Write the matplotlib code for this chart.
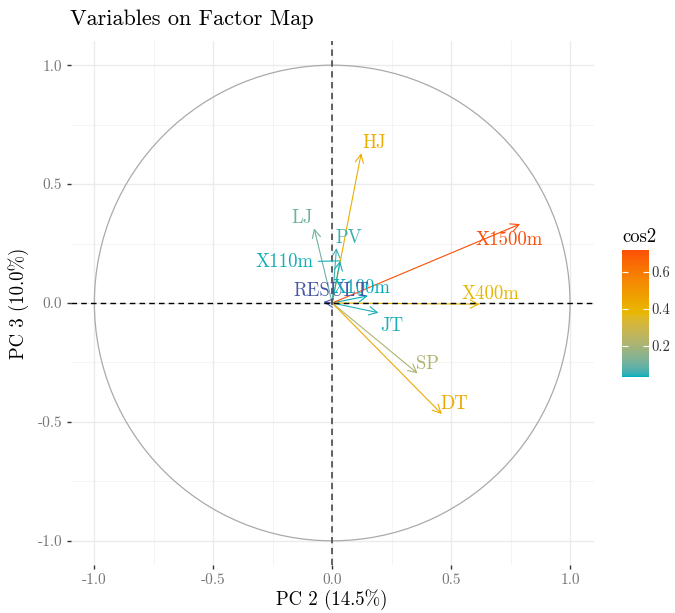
import numpy as np
import matplotlib
matplotlib.use("Agg")
import matplotlib.pyplot as plt
from matplotlib.colors import ListedColormap, Normalize, to_rgb
from matplotlib.cm import ScalarMappable
from matplotlib.patches import Circle

plt.rcParams['font.family'] = ['cmr10', 'DejaVu Serif']
plt.rcParams['axes.unicode_minus'] = False
plt.rcParams['mathtext.fontset'] = 'cm'
plt.rcParams['axes.formatter.use_mathtext'] = True

# ---- data ----
variables = ["X100m", "LJ", "SP", "HJ", "X400m", "X110m", "DT", "PV", "JT", "X1500m"]
pc2 = [0.150, -0.076, 0.359, 0.122, 0.620, 0.033, 0.461, 0.018, 0.195, 0.790]
pc3 = [0.030, 0.314, -0.296, 0.630, -0.005, 0.177, -0.467, 0.231, -0.041, 0.332]
cos2 = [0.032, 0.104, 0.217, 0.412, 0.385, 0.035, 0.430, 0.054, 0.040, 0.717]

sup_name = "RESULT"
sup_pc2 = -0.037
sup_pc3 = 0.004

tick_values = [-1.0, -0.5, 0.0, 0.5, 1.0]
tick_labels = ["-1.0", "-0.5", "0.0", "0.5", "1.0"]
minor_values = [-0.75, -0.25, 0.25, 0.75]
cbar_ticks = [0.2, 0.4, 0.6]
cbar_labels = ["0.2", "0.4", "0.6"]
gradient_colors = ["#00AFBB", "#E7B800", "#FC4E07"]

title = "Variables on Factor Map"
xlabel = "PC 2 (14.5%)"
ylabel = "PC 3 (10.0%)"

# ---- layout (label offsets in pixels: right, up) ----
label_offsets = {
    "X100m": (-6, 8), "LJ": (-12, 10), "SP": (10, 9), "HJ": (13, 10),
    "X400m": (11, 10), "X110m": (-55, -1), "DT": (12, 10), "PV": (12, 10),
    "JT": (13, -13), "X1500m": (-11, -16),
}
sup_offset = (8, 11)
PX = 0.72  # points per pixel at dpi 100


# ---- Lab-space gradient (like ggplot2's colour ramp) ----
def srgb_to_lab(rgb):
    rgb = np.asarray(rgb, float)
    lin = np.where(rgb <= 0.04045, rgb / 12.92, ((rgb + 0.055) / 1.055) ** 2.4)
    M = np.array([[0.4124564, 0.3575761, 0.1804375],
                  [0.2126729, 0.7151522, 0.0721750],
                  [0.0193339, 0.1191920, 0.9503041]])
    xyz = M @ lin
    wp = np.array([0.95047, 1.0, 1.08883])
    t = xyz / wp
    f = np.where(t > (6 / 29) ** 3, np.cbrt(t), t / (3 * (6 / 29) ** 2) + 4 / 29)
    return np.array([116 * f[1] - 16, 500 * (f[0] - f[1]), 200 * (f[1] - f[2])])


def lab_to_srgb(lab):
    L, a, b = lab
    fy = (L + 16) / 116
    fx = fy + a / 500
    fz = fy - b / 200
    f = np.array([fx, fy, fz])
    d = 6 / 29
    t = np.where(f > d, f ** 3, 3 * d ** 2 * (f - 4 / 29))
    xyz = t * np.array([0.95047, 1.0, 1.08883])
    Minv = np.array([[3.2404542, -1.5371385, -0.4985314],
                     [-0.9692660, 1.8760108, 0.0415560],
                     [0.0556434, -0.2040259, 1.0572252]])
    lin = np.clip(Minv @ xyz, 0, 1)
    rgb = np.where(lin <= 0.0031308, 12.92 * lin, 1.055 * lin ** (1 / 2.4) - 0.055)
    return np.clip(rgb, 0, 1)


labs = [srgb_to_lab(to_rgb(c)) for c in gradient_colors]
n = 256
cols = []
for i in range(n):
    t = i / (n - 1) * (len(labs) - 1)
    k = min(int(t), len(labs) - 2)
    f = t - k
    cols.append(lab_to_srgb(labs[k] * (1 - f) + labs[k + 1] * f))
cmap = ListedColormap(cols)
norm = Normalize(vmin=min(cos2), vmax=max(cos2))

W, H = 675, 613
fig = plt.figure(figsize=(W / 100, H / 100), dpi=100)
fig.patch.set_facecolor("white")

left, right, top, bottom = 70.6, 593.8, 41.4, 564.6
ax = fig.add_axes([left / W, 1 - bottom / H, (right - left) / W, (bottom - top) / H])
ax.set_xlim(-1.1, 1.1)
ax.set_ylim(-1.1, 1.1)
for s in ax.spines.values():
    s.set_visible(False)

# grid
for v in minor_values:
    ax.axvline(v, color="#F2F2F2", lw=0.6, zorder=0)
    ax.axhline(v, color="#F2F2F2", lw=0.6, zorder=0)
for v in tick_values:
    ax.axvline(v, color="#EBEBEB", lw=1.0, zorder=0)
    ax.axhline(v, color="#EBEBEB", lw=1.0, zorder=0)

ax.set_xticks(tick_values)
ax.set_xticklabels(tick_labels)
ax.set_yticks(tick_values)
ax.set_yticklabels(tick_labels)
ax.tick_params(axis="both", length=3, width=1, color="#333333",
               labelcolor="#777777", labelsize=11, pad=3)

ax.add_patch(Circle((0, 0), 1.0, fill=False, ec="#AAAAAA", lw=0.9, zorder=1))

for name, x, y, c in zip(variables, pc2, pc3, cos2):
    col = cmap(norm(c))
    ax.annotate("", xy=(x, y), xytext=(0, 0),
                arrowprops=dict(arrowstyle="->,head_length=0.6,head_width=0.3",
                                color=col, lw=0.8, shrinkA=0, shrinkB=0),
                zorder=3)

for name, x, y, c in zip(variables, pc2, pc3, cos2):
    col = cmap(norm(c))
    dx, dy = label_offsets[name]
    if name == "X110m":
        ax.annotate(name, xy=(x, y), xytext=(dx * PX, dy * PX), textcoords="offset points",
                    ha="center", va="center", fontsize=13.5, color=col, zorder=5,
                    arrowprops=dict(arrowstyle="-", color=col, lw=0.8, shrinkA=1, shrinkB=0))
    else:
        ax.annotate(name, xy=(x, y), xytext=(dx * PX, dy * PX), textcoords="offset points",
                    ha="center", va="center", fontsize=13.5, color=col, zorder=5)

sup_col = "#4858A8"
ax.annotate("", xy=(sup_pc2, sup_pc3), xytext=(0, 0),
            arrowprops=dict(arrowstyle="->,head_length=0.6,head_width=0.3",
                            color=sup_col, lw=0.8, shrinkA=0, shrinkB=0), zorder=3)
ax.annotate(sup_name, xy=(sup_pc2, sup_pc3), xytext=(sup_offset[0] * PX, sup_offset[1] * PX),
            textcoords="offset points", ha="center", va="center", fontsize=13.5,
            color=sup_col, zorder=5)

ax.axhline(0, color="black", lw=1.0, ls=(0, (4, 3)), zorder=4)
ax.axvline(0, color="#555555", lw=1.3, ls=(0, (3.5, 2.5)), zorder=4)

ax.set_xlabel(xlabel, fontsize=13.5, color="black", labelpad=2)
ax.set_ylabel(ylabel, fontsize=13.5, color="black", labelpad=6)

fig.text(70 / W, 1 - 19 / H, title, fontsize=16, ha="left", va="center", color="black")

# colorbar
cax = fig.add_axes([622.3 / W, 1 - 376.7 / H, 26.7 / W, 126.7 / H])
sm = ScalarMappable(norm=norm, cmap=cmap)
cb = fig.colorbar(sm, cax=cax)
cb.outline.set_visible(False)
cb.set_ticks(cbar_ticks)
cb.set_ticklabels(cbar_labels)
cax.tick_params(axis="y", direction="in", length=4, width=0.8, color="white",
                left=True, right=True, labelcolor="#333333", labelsize=10.5, pad=2)
fig.text(622 / W, 1 - 237 / H, "cos2", fontsize=13.5, ha="left", va="center")

fig.savefig("out.png", dpi=100)
